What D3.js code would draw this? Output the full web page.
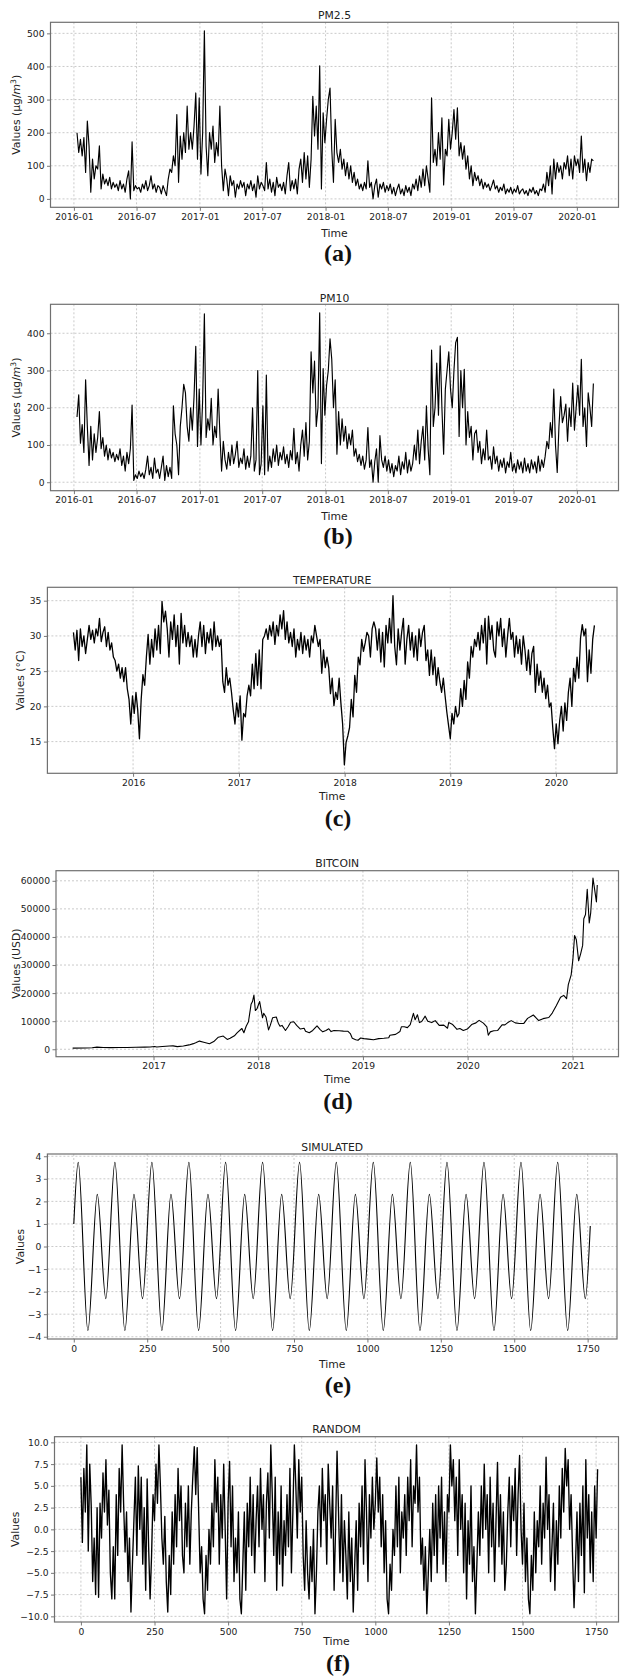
<!DOCTYPE html>
<meta charset="utf-8">
<style>
body { margin: 0; background: #fff; }
svg { display: block; }
.tick text { font: 9.2px "DejaVu Sans", sans-serif; fill: #222; }
.tick line { stroke: #555; stroke-width: 0.8; }
.grid line { stroke: #bcbcbc; stroke-width: 0.8; stroke-dasharray: 2,2; }
.frame { fill: none; stroke: #707070; stroke-width: 1.2; }
.title, .xlabel, .ylabel { font: 10.8px "DejaVu Sans", sans-serif; fill: #222; }
.tag { font: bold 24px "Liberation Serif", "Times New Roman", serif; fill: #111; }
.series { fill: none; stroke: #000; stroke-linejoin: round; }
</style>
<svg width="624" height="1677"></svg>
<script src="https://d3js.org/d3.v7.min.js"></script>
<script>

// PM2.5, one value every 5 days from 2016-01-10
var pm25Start = "2016-01-10", pm25Step = 5;
var pm25Values = [
  200,140,180,130,185,80, 235,160,20,120,60,100, 90,160,30,75,45,60, 40,65,30,50,35,45,
  25,55,30,45,20,60, 85,0,172,25,40,30, 35,20,45,30,55,25, 40,70,30,45,20,40,
  35,15,40,25,10,60, 90,80,130,100,255,50, 190,120,200,140,280,150, 200,150,220,320,120,305,
  75,200,508,160,70,200, 150,220,110,170,130,280, 100,25,90,60,10,70, 40,55,5,45,30,55,
  35,50,10,45,30,55, 25,45,5,70,30,50, 40,25,110,30,60,20, 50,10,65,35,45,25,
  50,15,70,110,25,55, 30,60,15,90,120,50, 140,60,130,35,120,310, 190,280,150,402,30,260,
  170,240,300,335,150,50, 240,140,110,150,90,120, 70,110,60,100,50,80, 40,60,30,45,25,50,
  30,115,35,50,0,40, 60,5,45,30,50,20, 40,25,45,15,35,10, 30,45,15,30,10,40,
  20,35,10,45,30,60, 25,70,35,90,40,100, 60,20,305,110,150,100, 200,120,245,42,150,130,
  240,150,200,270,180,275, 130,170,120,160,90,130, 60,100,40,80,55,70, 40,60,30,50,35,45,
  25,40,57,30,40,20, 35,25,45,15,30,20, 35,15,30,20,40,15, 25,30,15,25,10,30,
  20,35,15,25,10,30, 25,45,20,80,40,100, 15,120,60,110,80,100, 60,110,90,130,70,120,
  60,130,100,120,80,190, 80,120,55,110,80,120, 115
];

// PM10, same dates as PM2.5
var pm10Values = [
  175,235,105,155,80,275, 150,45,150,60,130,80, 120,190,90,120,70,100, 60,90,65,80,55,75,
  60,90,45,70,30,80, 50,90,207,5,20,10, 30,15,25,10,35,70, 20,40,10,65,25,35,
  10,40,70,5,45,15, 40,10,205,130,100,20, 150,200,263,240,150,110, 200,140,230,365,96,250,
  100,220,452,120,170,140, 225,100,150,120,250,130, 30,110,60,35,80,45, 100,50,75,110,40,65,
  50,90,35,70,40,70, 200,30,60,300,20,50, 205,20,288,30,70,40, 90,55,100,45,80,60,
  95,50,75,40,85,60, 145,50,80,30,100,140, 70,160,60,110,350,240, 325,150,200,455,50,305,
  180,260,300,385,330,200, 275,75,190,100,170,110, 150,90,130,100,140,70, 90,55,75,45,70,35,
  60,147,40,60,0,55, 90,0,125,60,40,70, 30,60,25,50,15,45, 30,70,20,55,35,80,
  25,60,30,50,100,60, 140,50,110,150,60,205, 90,20,355,150,200,320, 180,366,200,75,250,300,
  350,250,200,300,375,389, 123,300,200,303,100,190, 120,150,60,130,140,80, 110,50,90,60,140,60,
  70,35,95,50,70,30, 60,40,65,25,55,40, 80,30,50,25,60,35, 55,25,65,30,50,25,
  60,35,55,25,70,30, 60,40,70,110,90,160, 120,250,100,26,150,230, 160,180,210,110,200,150,
  266,140,200,260,180,330, 150,200,96,240,200,150, 265
];

// temperature, one value every 6 days from 2015-06-09
var tempStart = "2015-06-09", tempStep = 6;
var tempValues = [
  30.5,28.0,30.8,26.5,31.0,28.5, 30.0,27.5,29.5,31.5,29.5,30.8, 29.0,31.0,30.0,32.5,29.2,30.5,
  31.3,28.5,30.5,28.0,29.0,27.0, 26.5,25.0,26.0,24.0,25.5,23.5, 25.5,22.5,21.0,17.5,21.5,19.0,
  22.0,19.5,15.4,21.0,24.5,23.0, 27.0,30.2,26.0,29.5,27.0,31.0, 28.0,31.5,27.5,34.9,32.0,33.5,
  31.0,27.0,32.0,29.5,33.0,28.5, 31.5,26.0,33.2,29.0,31.5,28.5, 30.5,28.5,30.0,27.0,29.5,27.0,
  30.0,32.0,28.5,31.5,27.5,30.5, 29.0,31.0,28.0,32.0,28.5,30.0, 28.5,29.5,23.5,22.0,25.5,23.0,
  24.0,22.0,19.5,17.5,20.5,18.5, 21.5,15.2,19.0,18.5,21.5,23.0, 21.5,26.0,22.5,27.5,23.0,28.0,
  22.5,29.5,30.0,31.0,29.5,31.5, 30.0,32.0,28.8,31.5,30.0,33.0, 31.0,33.6,29.5,32.0,29.0,30.5,
  28.5,31.0,27.0,29.5,28.0,30.5, 27.5,30.0,28.0,29.5,27.0,30.0, 29.0,31.5,30.0,28.5,29.5,24.7,
  28.0,25.5,27.0,25.5,21.8,24.0, 20.1,22.0,21.0,24.0,20.5,17.5, 11.7,14.9,15.8,17.0,21.0,18.5,
  24.4,22.0,27.0,25.9,29.5,27.8, 29.0,30.5,30.0,27.0,31.0,32.0, 31.0,28.0,31.0,26.3,30.5,25.6,
  31.5,29.0,32.5,29.0,35.7,28.5, 25.9,31.0,28.0,30.5,32.5,26.0, 29.5,31.5,28.0,30.5,27.0,30.0,
  26.5,31.0,28.5,30.5,31.5,26.5, 28.0,24.4,28.0,24.5,27.0,23.0, 25.5,23.5,22.0,24.0,21.5,19.2,
  17.3,15.4,19.0,17.5,20.0,18.5, 19.0,22.5,20.0,23.7,21.0,26.3, 24.0,28.5,27.0,29.5,28.5,30.5,
  28.0,31.5,29.0,32.5,26.0,32.8, 29.5,31.5,28.0,27.0,32.0,30.0, 32.5,28.5,31.0,27.0,30.0,32.5,
  29.5,30.5,27.0,30.0,27.5,29.5, 26.0,30.0,28.0,25.1,28.0,24.5, 27.5,28.5,22.0,26.0,23.0,25.0,
  22.0,24.0,21.1,23.0,19.9,20.5, 17.0,14.0,17.5,14.7,18.0,20.0, 16.5,20.5,18.0,22.0,24.0,20.0,
  25.4,23.5,27.0,24.0,29.7,31.6, 30.0,31.0,23.5,28.0,24.7,29.5, 31.5
];

// bitcoin closing price (USD)
var btcDates = [
  "2016-03-25","2016-05-10","2016-06-01","2016-06-18","2016-07-10","2016-08-05","2016-09-01","2016-10-01","2016-11-01","2016-12-01","2016-12-20",
  "2017-01-05","2017-01-12","2017-02-01","2017-02-25","2017-03-10","2017-03-25","2017-04-15","2017-05-05","2017-05-20","2017-05-28",
  "2017-06-10","2017-06-25","2017-07-15","2017-07-30","2017-08-15","2017-09-01","2017-09-15","2017-09-25","2017-10-10","2017-10-20",
  "2017-11-05","2017-11-12","2017-11-20","2017-11-28","2017-12-07","2017-12-12","2017-12-17","2017-12-22","2017-12-28",
  "2018-01-06","2018-01-12","2018-01-16","2018-01-20","2018-01-28","2018-02-06","2018-02-12","2018-02-20","2018-03-05","2018-03-12",
  "2018-03-18","2018-03-25","2018-04-06","2018-04-15","2018-04-24","2018-05-05","2018-05-15","2018-05-28","2018-06-10","2018-06-15",
  "2018-06-28","2018-07-10","2018-07-25","2018-08-05","2018-08-14","2018-08-25","2018-09-04","2018-09-12","2018-09-22","2018-10-10",
  "2018-10-25","2018-11-10","2018-11-18","2018-11-25","2018-12-07","2018-12-15","2018-12-24",
  "2019-01-05","2019-01-20","2019-02-07","2019-02-25","2019-03-15","2019-04-01","2019-04-05","2019-04-25","2019-05-10","2019-05-15",
  "2019-05-25","2019-06-05","2019-06-15","2019-06-26","2019-07-02","2019-07-10","2019-07-17","2019-07-25","2019-08-06","2019-08-15",
  "2019-08-29","2019-09-10","2019-09-24","2019-10-10","2019-10-23","2019-10-27","2019-11-10","2019-11-25","2019-12-05","2019-12-17","2019-12-31",
  "2020-01-15","2020-01-30","2020-02-10","2020-02-25","2020-03-08","2020-03-13","2020-03-20","2020-04-01","2020-04-15","2020-04-30",
  "2020-05-10","2020-05-20","2020-06-01","2020-06-15","2020-06-30","2020-07-15","2020-07-28","2020-08-17","2020-09-05","2020-09-20",
  "2020-10-10","2020-10-22","2020-11-05","2020-11-20","2020-12-01","2020-12-11","2020-12-17","2020-12-27",
  "2021-01-02","2021-01-08","2021-01-14","2021-01-22","2021-01-29","2021-02-05","2021-02-09","2021-02-15","2021-02-21","2021-02-28",
  "2021-03-05","2021-03-13","2021-03-18","2021-03-25","2021-03-28"
];
var btcValues = [
  420,450,530,760,650,580,600,610,730,750,790,
  1000,800,970,1180,1200,950,1180,1550,2000,2300,
  2900,2500,1950,2750,4300,4700,3500,3900,4800,5900,
  7400,5900,8200,9800,16000,17000,19300,13800,14500,
  17000,13500,11200,12800,11500,6900,8500,11200,11500,9300,
  8200,8500,6700,8000,9600,9800,8500,7200,7500,6400,
  5900,6700,8300,7000,6200,6700,7300,6300,6700,6600,
  6450,6400,5600,3900,3400,3200,4000,
  3800,3600,3400,3800,3900,4100,5000,5300,6300,8000,
  8000,7700,8800,12800,10500,12300,9500,9900,11800,10000,
  9500,10200,8500,8600,7500,9500,8800,7100,7400,6700,7200,
  8800,9400,10300,9300,8000,5000,6200,6600,6700,8700,
  8700,9500,10200,9400,9200,9200,11000,12200,10200,10900,
  11300,12900,15500,18500,19200,18000,23000,26500,
  32000,40500,39000,31500,34000,37000,46500,48000,57000,45000,
  48500,61000,57500,52500,58500
];

// simulated signal: turning points
var simTimes = [0,
  15,48,80,109, 140,174,205,234, 266,300,331,360, 392,425,457,486, 517,551,582,611,
  643,677,708,737, 769,802,834,863, 894,928,959,988, 1020,1054,1085,1114, 1146,1179,1211,1240,
  1271,1305,1336,1365, 1397,1431,1462,1491, 1523,1556,1588,1617, 1648,1682,1713,1742,
  1759];
var simValues = [1.0,
  3.73,-3.73,2.31,-2.31, 3.73,-3.73,2.31,-2.31, 3.73,-3.73,2.31,-2.31, 3.73,-3.73,2.31,-2.31,
  3.73,-3.73,2.31,-2.31, 3.73,-3.73,2.31,-2.31, 3.73,-3.73,2.31,-2.31, 3.73,-3.73,2.31,-2.31,
  3.73,-3.73,2.31,-2.31, 3.73,-3.73,2.31,-2.31, 3.73,-3.73,2.31,-2.31, 3.73,-3.73,2.31,-2.31,
  3.73,-3.73,2.31,-2.31, 3.73,-3.73,2.31,-2.31,
  0.91];

// random series, one value every 5 steps
var randomStep = 5;
var randomValues = [
  6.0,-1.5,7.0,2.0,9.7,-2.5,7.5,2.7,-6.0,-1.0, -7.5,2.5,-7.8,3.0,-1.0,6.5,2.0,8.0,0.5,4.5,
  -5.0,-8.0,-2.0,-8.0,4.0,-3.0,7.0,2.0,9.7,3.0, -2.6,2.0,-6.0,-1.0,-9.5,-4.0,1.0,6.0,-3.0,7.3,
  0.0,6.0,-4.0,2.5,-7.0,5.8,-2.0,-8.0,-3.0,4.0, 1.0,7.5,3.0,9.7,5.0,-1.0,-4.0,1.5,-6.0,-9.5,
  -3.0,-7.5,2.0,-4.0,4.0,-2.0,7.0,1.0,5.0,-3.0, -5.0,3.0,-2.0,5.0,-4.0,2.0,6.0,9.5,4.0,9.4,
  2.0,-5.0,-2.0,-8.0,-9.7,-3.0,-7.0,0.0,-4.0,3.0, -2.0,8.0,2.0,6.0,-4.0,4.0,-1.0,7.5,0.0,-8.0,
  3.0,7.8,-2.0,5.0,-6.0,-1.0,-5.0,2.0,-8.0,-9.7, -4.0,2.0,-7.0,3.0,-2.0,6.0,-3.0,4.0,-5.0,1.0,
  5.0,-2.0,7.0,0.0,4.0,-6.0,3.0,6.5,-1.0,9.7, 4.0,-3.0,6.0,-7.0,2.0,-4.0,5.0,-6.5,1.0,-3.0,
  4.0,-2.0,7.0,-5.0,2.0,9.7,5.0,-1.0,8.0,2.0, 6.0,-3.0,-7.0,1.0,-5.0,-8.0,-2.0,-6.0,0.0,-9.7,
  -5.0,2.0,5.0,-2.0,7.0,1.0,4.0,-4.0,7.5,3.0, -1.0,5.0,-7.0,0.0,9.0,2.0,-5.0,4.0,-6.0,1.0,
  -3.0,-8.0,2.0,-6.0,-1.0,-9.5,-4.0,1.0,-7.0,3.0, -2.0,5.0,-4.0,8.0,2.0,-6.0,4.0,-1.0,6.0,0.0,
  3.0,8.2,2.0,6.0,-2.0,4.0,-5.0,1.0,-8.0,-9.7, -4.0,-7.0,0.0,-3.0,5.0,-2.0,6.0,-5.0,2.0,-1.0,
  4.0,-3.0,6.0,1.0,8.0,-2.0,5.0,3.0,9.7,2.0, 6.0,-4.0,-1.0,-7.0,-2.0,-9.7,-5.0,0.0,-6.0,3.0,
  -3.0,4.0,-5.0,5.0,-1.0,6.0,-4.0,2.0,-6.0,4.0, 2.0,9.7,5.0,8.0,1.0,6.0,-3.0,8.0,0.0,4.0,
  -5.0,3.0,-8.0,1.0,-4.0,5.0,-6.0,-2.0,-9.7,-4.0, 2.0,-3.0,5.0,-1.0,7.5,0.0,4.0,-5.0,6.0,-2.0,
  3.0,-6.0,1.0,7.7,-2.0,4.0,-4.0,2.0,-7.0,-4.0, 2.0,6.0,-2.0,5.0,1.0,7.0,-3.0,4.0,8.5,0.0,
  -4.0,3.0,-6.0,-1.0,-8.0,-9.7,-3.0,-7.0,2.0,-5.0, 1.0,-2.0,5.0,-4.0,3.0,-1.0,8.3,0.0,4.0,-6.0,
  -2.0,3.0,-7.0,1.0,-4.0,5.0,-1.0,7.0,2.0,9.3, 5.0,8.0,0.0,4.0,-3.0,-9.0,-4.0,2.0,-6.0,3.0,
  -3.0,5.0,-7.3,8.0,-1.0,4.0,-5.0,2.0,-6.0,5.0, -1.0,6.9
];

// tick labels
var pmMonthTicks = ["2016-01","2016-07","2017-01","2017-07","2018-01","2018-07","2019-01","2019-07","2020-01"];
var tempYearTicks = ["2016","2017","2018","2019","2020"];
var btcYearTicks = ["2017","2018","2019","2020","2021"];
var stepTicks = [0, 250, 500, 750, 1000, 1250, 1500, 1750];
var pm25YTicks = [0, 100, 200, 300, 400, 500];
var pm10YTicks = [0, 100, 200, 300, 400];
var tempYTicks = [15, 20, 25, 30, 35];
var btcYTicks = [0, 10000, 20000, 30000, 40000, 50000, 60000];
var simYTicks = [-4, -3, -2, -1, 0, 1, 2, 3, 4];
var randomYTicks = [-10, -7.5, -5, -2.5, 0, 2.5, 5, 7.5, 10];

var parseDay = d3.timeParse("%Y-%m-%d"),
    parseMonth = d3.timeParse("%Y-%m"),
    parseYear = d3.timeParse("%Y");

function stepped(start, step, values) {
  var t0 = parseDay(start);
  return values.map(function(v, i) { return [d3.timeDay.offset(t0, i * step), v]; });
}

var svg = d3.select("svg");

var panels = [
  { title: "PM2.5", tag: "(a)", ylabel: "pm", lineWidth: 1.15,
    points: stepped(pm25Start, pm25Step, pm25Values),
    x: d3.scaleTime().domain([parseDay("2015-10-25"), parseDay("2020-05-01")]),
    xTicks: pmMonthTicks.map(parseMonth), xFormat: d3.timeFormat("%Y-%m"),
    yDomain: [-25.4, 533.4], yTicks: pm25YTicks, yFormat: d3.format("d"),
    left: 50.5, right: 618.5, top: 22.3, bottom: 207.3,
    titleY: 18.9, ylabelX: 19.7, xlabelY: 237, tagY: 261 },
  { title: "PM10", tag: "(b)", ylabel: "pm", lineWidth: 1.15,
    points: stepped(pm25Start, pm25Step, pm10Values),
    x: d3.scaleTime().domain([parseDay("2015-10-25"), parseDay("2020-05-01")]),
    xTicks: pmMonthTicks.map(parseMonth), xFormat: d3.timeFormat("%Y-%m"),
    yDomain: [-22.75, 477.75], yTicks: pm10YTicks, yFormat: d3.format("d"),
    left: 50.5, right: 618.5, top: 304.3, bottom: 490.7,
    titleY: 301.9, ylabelX: 19.7, xlabelY: 520, tagY: 544 },
  { title: "TEMPERATURE", tag: "(c)", ylabel: "Values (°C)", lineWidth: 1.3,
    points: stepped(tempStart, tempStep, tempValues),
    x: d3.scaleTime().domain([parseDay("2015-03-11"), parseDay("2020-07-30")]),
    xTicks: tempYearTicks.map(parseYear), xFormat: d3.timeFormat("%Y"),
    yDomain: [10.5, 36.9], yTicks: tempYTicks, yFormat: d3.format("d"),
    left: 47.4, right: 617, top: 587.3, bottom: 773.3,
    titleY: 583.9, ylabelX: 24.4, xlabelY: 800, tagY: 826 },
  { title: "BITCOIN", tag: "(d)", ylabel: "Values (USD)", lineWidth: 1.1,
    points: btcDates.map(function(d, i) { return [parseDay(d), btcValues[i]]; }),
    x: d3.scaleTime().domain([parseDay("2016-01-27"), parseDay("2021-06-10")]),
    xTicks: btcYearTicks.map(parseYear), xFormat: d3.timeFormat("%Y"),
    yDomain: [-2650, 63600], yTicks: btcYTicks, yFormat: d3.format("d"),
    left: 56, right: 618.5, top: 870.7, bottom: 1056.7,
    titleY: 867.2, ylabelX: 19.7, xlabelY: 1083, tagY: 1109 },
  { title: "SIMULATED", tag: "(e)", ylabel: "Values", lineWidth: 1.1,
    points: simTimes.map(function(t, i) { return [t, simValues[i]]; }), curve: d3.curveMonotoneX,
    x: d3.scaleLinear().domain([-89.9, 1850]),
    xTicks: stepTicks, xFormat: d3.format("d"),
    yDomain: [-4.1, 4.1], yTicks: simYTicks, yFormat: d3.format("d"),
    left: 47.4, right: 617, top: 1154, bottom: 1339,
    titleY: 1150.6, ylabelX: 23.6, xlabelY: 1368.2, tagY: 1393 },
  { title: "RANDOM", tag: "(f)", ylabel: "Values", lineWidth: 1.35,
    points: randomValues.map(function(v, i) { return [i * randomStep, v]; }),
    x: d3.scaleLinear().domain([-89.7, 1826]),
    xTicks: stepTicks, xFormat: d3.format("d"),
    yDomain: [-10.65, 10.65], yTicks: randomYTicks, yFormat: d3.format(".1f"),
    left: 54.5, right: 618.5, top: 1436.7, bottom: 1622,
    titleY: 1433.2, ylabelX: 18.9, xlabelY: 1644.6, tagY: 1671 }
];

panels.forEach(drawPanel);

function drawPanel(p) {
  var x = p.x.range([p.left, p.right]),
      y = d3.scaleLinear().domain(p.yDomain).range([p.bottom, p.top]),
      g = svg.append("g");

  g.append("g").attr("class", "grid")
    .selectAll("line").data(p.xTicks).enter().append("line")
      .attr("x1", function(d) { return x(d); }).attr("x2", function(d) { return x(d); })
      .attr("y1", p.top).attr("y2", p.bottom);
  g.append("g").attr("class", "grid")
    .selectAll("line").data(p.yTicks).enter().append("line")
      .attr("x1", p.left).attr("x2", p.right)
      .attr("y1", function(d) { return y(d); }).attr("y2", function(d) { return y(d); });

  var line = d3.line()
      .x(function(d) { return x(d[0]); })
      .y(function(d) { return y(d[1]); })
      .curve(p.curve || d3.curveLinear);
  g.append("path").datum(p.points).attr("class", "series")
      .attr("stroke-width", p.lineWidth).attr("d", line);

  g.append("g").attr("transform", "translate(0," + p.bottom + ")")
      .call(d3.axisBottom(x).tickValues(p.xTicks).tickFormat(p.xFormat).tickSize(3.5).tickPadding(2.5))
      .call(function(a) { a.select(".domain").remove(); });
  g.append("g").attr("transform", "translate(" + p.left + ",0)")
      .call(d3.axisLeft(y).tickValues(p.yTicks).tickFormat(p.yFormat).tickSize(3.5).tickPadding(2.5))
      .call(function(a) { a.select(".domain").remove(); });

  g.append("rect").attr("class", "frame")
      .attr("x", p.left).attr("y", p.top)
      .attr("width", p.right - p.left).attr("height", p.bottom - p.top);

  var cx = (p.left + p.right) / 2;
  g.append("text").attr("class", "title").attr("x", cx).attr("y", p.titleY)
      .attr("text-anchor", "middle").text(p.title);
  g.append("text").attr("class", "xlabel").attr("x", cx).attr("y", p.xlabelY)
      .attr("text-anchor", "middle").text("Time");
  g.append("text").attr("class", "tag").attr("x", 338).attr("y", p.tagY)
      .attr("text-anchor", "middle").text(p.tag);

  var yl = g.append("text").attr("class", "ylabel").attr("text-anchor", "middle")
      .attr("transform", "translate(" + p.ylabelX + "," + (p.top + p.bottom) / 2 + ") rotate(-90)");
  if (p.ylabel === "pm") {
    yl.append("tspan").text("Values (µg/");
    yl.append("tspan").attr("font-style", "italic").text("m");
    yl.append("tspan").attr("dy", -4).attr("font-size", "7.6px").text("3");
    yl.append("tspan").attr("dy", 4).text(")");
  } else {
    yl.text(p.ylabel);
  }
}

</script>
